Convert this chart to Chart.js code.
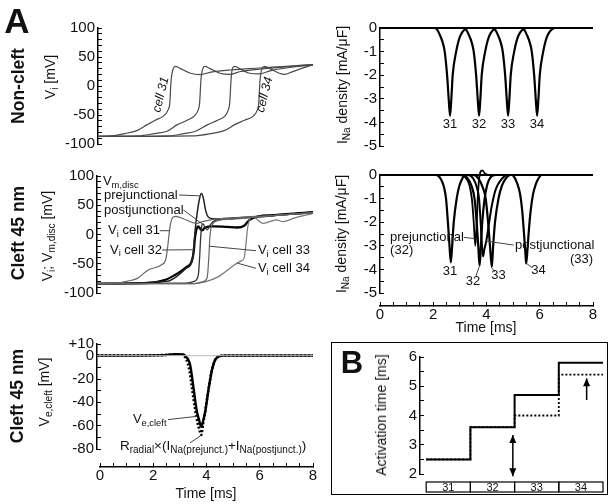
<!DOCTYPE html>
<html>
<head>
<meta charset="utf-8">
<script src="https://cdn.jsdelivr.net/npm/chart.js@4.4.1/dist/chart.umd.min.js"></script>
<style>
  html, body { margin: 0; padding: 0; background: #fff; }
  #fig { position: relative; width: 611px; height: 504px; overflow: hidden;
         font-family: "Liberation Sans", Arial, sans-serif; color: #111; }
  #fig canvas { position: absolute; left: 0; top: 0; }
  .lbl { position: absolute; white-space: nowrap; line-height: 1; transform: translate(-50%, -50%); }
  .rot { transform: translate(-50%, -50%) rotate(-90deg); }
  .sb { font-size: 72%; vertical-align: -0.3em; }
  .row { font-weight: bold; font-size: 17.5px; }
  .yt { font-size: 14px; }
  .box { position: absolute; left: 331px; top: 342px; width: 277px; height: 153px;
         box-sizing: border-box; border: 1.5px solid #000; }
</style>
</head>
<body>
<div id="fig">
  <div class="box"></div>
  <canvas id="cTL" width="611" height="504"></canvas>
  <canvas id="cTR" width="611" height="504"></canvas>
  <canvas id="cML" width="611" height="504"></canvas>
  <canvas id="cMR" width="611" height="504"></canvas>
  <canvas id="cMRt" width="611" height="504"></canvas>
  <canvas id="cBL" width="611" height="504"></canvas>
  <canvas id="cBLt" width="611" height="504"></canvas>
  <canvas id="cB" width="611" height="504"></canvas>

  <div class="lbl" style="left:17px;top:20px;font-size:35px;font-weight:bold">A</div>
  <div class="lbl" style="left:352px;top:362px;font-size:31px;font-weight:bold">B</div>

  <div class="lbl rot row" style="left:19px;top:86px">Non-cleft</div>
  <div class="lbl rot row" style="left:19px;top:233px">Cleft 45 nm</div>
  <div class="lbl rot row" style="left:18px;top:396px">Cleft 45 nm</div>

  <div class="lbl rot yt" style="left:52px;top:77px">V<span class="sb">i</span> [mV]</div>
  <div class="lbl rot yt" style="left:49px;top:236px">V<span class="sb">i</span>; V<span class="sb">m,disc</span> [mV]</div>
  <div class="lbl rot yt" style="left:46px;top:392px">V<span class="sb">e,cleft</span> [mV]</div>
  <div class="lbl rot yt" style="left:344px;top:85px">I<span class="sb">Na</span> density [mA/μF]</div>
  <div class="lbl rot yt" style="left:343px;top:234px">I<span class="sb">Na</span> density [mA/μF]</div>
  <div class="lbl rot yt" style="left:381px;top:415px">Activation time [ms]</div>

  <div class="lbl yt" style="left:486px;top:327px">Time [ms]</div>
  <div class="lbl yt" style="left:206px;top:493px">Time [ms]</div>
</div>

<script>
// ---- data: time in ms, voltage in mV, current in mA/uF ----

// tick labels
const timeTicks = [0, 2, 4, 6, 8];
const vTicks = [100, 50, 0, -50, -100];
const inaTicks = [0, -1, -2, -3, -4, -5];
const veTicks = [10, 0, -20, -40, -60, -80];
const actTicks = [2, 3, 4, 5, 6];

// non-cleft, intracellular potential
const ncVi31 = [[0,-87],[0.5,-86],[1.0,-82],[1.44,-77],[1.82,-67],[2.13,-59],[2.45,-51],[2.6,-42],[2.67,-30],[2.72,10],[2.8,30],[2.88,34],[3.07,30],[3.44,22],[3.8,19.5],[4.2,24],[5,28],[6,31],[7,34],[8,37]];
const ncVi32 = [[0,-87],[1.5,-86],[2.1,-82],[2.57,-78],[2.94,-67],[3.32,-59],[3.6,-51],[3.72,-42],[3.78,-30],[3.83,10],[3.9,30],[3.98,34],[4.17,30],[4.54,22],[4.9,20],[5.3,25],[6,29],[7,33],[8,37]];
const ncVi33 = [[0,-87],[2.6,-86],[3.2,-82],[3.63,-78],[4.07,-67],[4.45,-59],[4.74,-51],[4.84,-42],[4.9,-30],[4.95,10],[5.0,30],[5.08,34],[5.27,30],[5.64,22],[6.0,21],[6.4,26],[7,31],[8,36]];
const ncVi34 = [[0,-87],[3.5,-86],[4.2,-82],[4.7,-77],[5.07,-67],[5.45,-59],[5.8,-51],[5.92,-42],[5.98,-30],[6.03,10],[6.1,30],[6.2,34],[6.4,30],[6.75,22],[6.95,20],[7.2,24],[7.5,29],[8,37]];

// non-cleft, sodium current density
const ncINa31 = [[0,0],[2.05,0],[2.15,-0.08],[2.25,-0.3],[2.35,-0.6],[2.43,-1.0],[2.52,-2.0],[2.58,-3.0],[2.63,-3.72],[2.68,-3.0],[2.73,-2.0],[2.86,-1.0],[2.95,-0.55],[3.03,-0.3],[3.15,-0.1],[3.3,0],[8,0]];
const ncINa32 = [[0,0],[3.14,0],[3.24,-0.08],[3.34,-0.3],[3.44,-0.6],[3.52,-1.0],[3.61,-2.0],[3.67,-3.0],[3.72,-3.72],[3.77,-3.0],[3.82,-2.0],[3.95,-1.0],[4.04,-0.55],[4.12,-0.3],[4.24,-0.1],[4.39,0],[8,0]];
const ncINa33 = [[0,0],[4.23,0],[4.33,-0.08],[4.43,-0.3],[4.53,-0.6],[4.61,-1.0],[4.7,-2.0],[4.76,-3.0],[4.81,-3.72],[4.86,-3.0],[4.91,-2.0],[5.04,-1.0],[5.13,-0.55],[5.21,-0.3],[5.33,-0.1],[5.48,0],[8,0]];
const ncINa34 = [[0,0],[5.32,0],[5.42,-0.08],[5.52,-0.3],[5.62,-0.6],[5.7,-1.0],[5.79,-2.0],[5.85,-3.0],[5.9,-3.72],[5.95,-3.0],[6.0,-2.0],[6.13,-1.0],[6.22,-0.55],[6.3,-0.3],[6.42,-0.1],[6.57,0],[8,0]];

// cleft 45 nm, intracellular and disc membrane potentials
const cVi31 = [[0,-84],[0.6,-84],[1.1,-80],[1.5,-75],[1.88,-61],[2.38,-52],[2.55,-42],[2.62,-20],[2.68,5],[2.74,22],[2.82,30],[2.92,31],[3.2,27],[3.5,21],[3.7,19],[3.9,22],[4.3,26],[5,28],[6,31],[7,34],[8,37]];
const cVi32 = [[0,-84],[1.8,-83],[2.5,-78],[3.0,-66],[3.3,-56],[3.5,-47],[3.58,-30],[3.63,-5],[3.68,8],[3.75,14],[3.82,10],[3.9,7],[4.0,12],[4.3,14],[4.8,13],[5.2,12],[5.45,15],[5.65,25],[6.0,31],[6.5,33],[7,35],[8,38]];
const cVmPre = [[0,-84],[2.6,-80],[3.0,-70],[3.3,-58],[3.5,-48],[3.58,-25],[3.64,10],[3.72,40],[3.8,62],[3.87,70],[3.94,62],[4.02,42],[4.12,30],[4.3,27],[4.6,27],[5,28],[6,31],[7,34],[8,37]];
const cVmPost = [[0,-84],[3.3,-83],[3.6,-80],[3.75,-70],[3.8,-40],[3.84,-5],[3.88,15],[3.93,18],[4.0,12],[4.08,8],[4.18,15],[4.3,22],[4.6,26],[5,27],[6,30],[7,34],[8,37]];
const cVi33 = [[0,-84],[3.6,-84],[3.9,-81],[4.08,-74],[4.14,-40],[4.18,-5],[4.23,12],[4.32,20],[4.5,24],[5,26],[6,30],[7,34],[8,37]];
const cVi34 = [[0,-84],[3.6,-84],[4.0,-81],[4.5,-72],[5.0,-55],[5.3,-46],[5.45,-40],[5.52,-15],[5.58,12],[5.66,27],[5.75,31],[5.9,27],[6.14,19],[6.4,22],[6.64,25],[6.9,22],[7.3,28],[8,36]];

// cleft 45 nm, sodium current density
const cINa31 = [[0,0],[2.1,0],[2.2,-0.05],[2.3,-0.2],[2.4,-0.5],[2.48,-1.0],[2.55,-2.0],[2.61,-3.0],[2.66,-3.7],[2.71,-3.0],[2.77,-2.0],[2.88,-1.0],[2.97,-0.5],[3.07,-0.2],[3.2,0],[8,0]];
const cINaPre = [[0,0],[3.0,0],[3.2,-0.1],[3.35,-0.4],[3.45,-1.0],[3.52,-2.0],[3.58,-3.0],[3.63,-2.1],[3.67,-1.0],[3.72,-0.2],[3.78,0.15],[3.84,0.2],[3.95,0.05],[4.1,0],[8,0]];
const cINa32 = [[0,0],[3.1,0],[3.3,-0.15],[3.45,-0.5],[3.55,-1.0],[3.63,-2.0],[3.69,-3.0],[3.74,-3.85],[3.79,-3.0],[3.84,-2.0],[3.93,-1.0],[4.03,-0.4],[4.15,-0.1],[4.35,0],[8,0]];
const cINaPost = [[0,0],[3.3,0],[3.5,-0.15],[3.63,-0.5],[3.72,-1.0],[3.78,-2.0],[3.83,-3.0],[3.87,-3.45],[3.92,-3.15],[4.0,-2.75],[4.1,-2.0],[4.2,-1.3],[4.35,-0.6],[4.55,-0.2],[4.8,0],[8,0]];
const cINa33 = [[0,0],[3.5,0],[3.7,-0.15],[3.85,-0.5],[3.97,-1.0],[4.06,-2.0],[4.13,-3.0],[4.2,-3.9],[4.25,-3.0],[4.32,-2.0],[4.45,-1.0],[4.58,-0.45],[4.72,-0.15],[4.9,0],[8,0]];
const cINa34 = [[0,0],[4.95,0],[5.05,-0.1],[5.15,-0.35],[5.26,-0.8],[5.34,-1.5],[5.41,-2.5],[5.46,-3.3],[5.49,-3.75],[5.53,-3.3],[5.58,-2.5],[5.66,-1.5],[5.75,-0.8],[5.85,-0.4],[5.95,-0.15],[6.07,0],[8,0]];

// cleft 45 nm, cleft potential
const zeroRef = [[0,0],[8,0]];
const veCleft = [[0,0],[2.5,0.5],[2.9,1.2],[3.2,1],[3.3,-1],[3.38,-3.4],[3.45,-8],[3.5,-15],[3.6,-32],[3.7,-48],[3.78,-55],[3.86,-61],[3.93,-56],[4.0,-49],[4.13,-29],[4.26,-12],[4.38,-3.4],[4.5,-0.8],[4.7,0],[8,0]];
const radialINa = [[0,0],[2.5,0.5],[2.9,1.2],[3.15,0.8],[3.3,-3],[3.42,-12],[3.52,-28],[3.62,-44],[3.72,-57],[3.8,-64],[3.86,-68],[3.93,-58],[4.0,-49],[4.13,-29],[4.26,-12],[4.38,-3.4],[4.5,-0.8],[4.7,0],[8,0]];

// panel B: activation time per cell
const cellNames = ['31', '32', '33', '34'];
const actSolid = [2.5, 3.6, 4.7, 5.8];
const actDotted = [2.5, 3.6, 4.0, 5.4];

// ---- drawing ----
const W = 611, H = 504, AXW = 40;
const FONT = '"Liberation Sans", Arial, sans-serif';

function parseRich(s) {
  const parts = [];
  const re = /_\{([^}]*)\}/g;
  let last = 0, m;
  while ((m = re.exec(s))) {
    if (m.index > last) parts.push([s.slice(last, m.index), false]);
    parts.push([m[1], true]);
    last = re.lastIndex;
  }
  if (last < s.length) parts.push([s.slice(last), false]);
  return parts;
}

function drawRich(ctx, x, y, it) {
  const size = it.size || 13;
  const sub = size * (it.subr || 0.72);
  const style = it.italic ? 'italic ' : '';
  const fontOf = b => style + (b ? sub : size) + 'px ' + FONT;
  const parts = parseRich(it.s);
  let w = 0;
  parts.forEach(([t, b]) => { ctx.font = fontOf(b); w += ctx.measureText(t).width; });
  ctx.save();
  ctx.translate(x, y);
  if (it.rot) ctx.rotate(it.rot * Math.PI / 180);
  let cx = it.align === 'center' ? -w / 2 : it.align === 'right' ? -w : 0;
  ctx.fillStyle = '#111';
  ctx.textBaseline = 'middle';
  ctx.textAlign = 'left';
  parts.forEach(([t, b]) => {
    ctx.font = fontOf(b);
    ctx.fillText(t, cx, b ? size * 0.3 : 0);
    cx += ctx.measureText(t).width;
  });
  ctx.restore();
}

function arrowHead(ctx, x, y, dir) {
  ctx.beginPath();
  ctx.moveTo(x, y);
  ctx.lineTo(x - 3.5, y - dir * 8);
  ctx.lineTo(x + 3.5, y - dir * 8);
  ctx.closePath();
  ctx.fill();
}

// annotations, given in data units of the chart they belong to
function notes(items) {
  return {
    id: 'notes',
    afterDatasetsDraw(chart) {
      const ctx = chart.ctx;
      const X = v => chart.scales.x.getPixelForValue(v);
      const Y = v => chart.scales.y.getPixelForValue(v);
      ctx.save();
      items.forEach(it => {
        if (it.k === 'line') {
          ctx.strokeStyle = '#444';
          ctx.lineWidth = 1;
          ctx.beginPath();
          ctx.moveTo(X(it.x1), Y(it.y1));
          ctx.lineTo(X(it.x2), Y(it.y2));
          ctx.stroke();
        } else if (it.k === 'text') {
          drawRich(ctx, X(it.x), Y(it.y), it);
        } else if (it.k === 'arrow') {
          const x = X(it.x), y1 = Y(it.y1), y2 = Y(it.y2);
          ctx.strokeStyle = '#000';
          ctx.fillStyle = '#000';
          ctx.lineWidth = 1.5;
          ctx.beginPath();
          ctx.moveTo(x, y1);
          ctx.lineTo(x, y2);
          ctx.stroke();
          const dir = y2 > y1 ? 1 : -1;
          arrowHead(ctx, x, y2, dir);
          if (it.both) arrowHead(ctx, x, y1, -dir);
        } else if (it.k === 'cells') {
          const top = chart.chartArea.bottom + 8, h = 10;
          ctx.strokeStyle = '#000';
          ctx.lineWidth = 1.2;
          ctx.fillStyle = '#111';
          ctx.font = '11px ' + FONT;
          ctx.textAlign = 'center';
          ctx.textBaseline = 'middle';
          it.labels.forEach((name, i) => {
            const a = X(i), b = X(i + 1);
            ctx.strokeRect(a, top, b - a, h);
            ctx.fillText(name, (a + b) / 2, top + h / 2 + 0.5);
          });
        }
      });
      ctx.restore();
    }
  };
}

function series(arr, color, width, dash) {
  return {
    data: arr.map(([x, y]) => ({ x, y })),
    borderColor: color,
    borderWidth: width,
    borderDash: dash || [],
    pointRadius: 0,
    cubicInterpolationMode: 'monotone',
    clip: false,
    fill: false
  };
}

function yAxis(min, max, step, labels, fmt) {
  return {
    min, max,
    afterFit: s => { s.width = AXW; },
    border: { color: '#000', width: 1.5 },
    grid: { drawOnChartArea: false, tickLength: -4, color: '#000', lineWidth: 1 },
    ticks: {
      stepSize: step, autoSkip: false, maxTicksLimit: 200, padding: 7, color: '#111',
      font: { family: FONT, size: 15 },
      callback: v => labels.includes(v) ? (fmt ? fmt(v) : String(v)) : ''
    }
  };
}

// area = [left, top, right, bottom] of the plotting region, in pixels
function panel(id, area, xr, yScale, sets, items) {
  return new Chart(document.getElementById(id), {
    type: 'line',
    data: { datasets: sets },
    options: {
      responsive: false, animation: false, events: [],
      layout: { autoPadding: false, padding: { left: area[0] - AXW, top: area[1], right: W - area[2], bottom: H - area[3] } },
      plugins: { legend: { display: false }, tooltip: { enabled: false } },
      scales: { x: { type: 'linear', display: false, min: xr[0], max: xr[1] }, y: yScale }
    },
    plugins: [notes(items)]
  });
}

function timeAxis(id, left, right, lineY) {
  return new Chart(document.getElementById(id), {
    type: 'line',
    data: { datasets: [] },
    options: {
      responsive: false, animation: false, events: [],
      layout: { autoPadding: false, padding: { left: left, top: lineY - 6, right: W - right, bottom: H - lineY - 24 } },
      plugins: { legend: { display: false }, tooltip: { enabled: false } },
      scales: {
        x: {
          type: 'linear', min: 0, max: 8, position: 'bottom',
          afterFit: s => { s.height = 24; },
          border: { color: '#000', width: 1.5 },
          grid: { drawOnChartArea: false, tickLength: -4, color: '#000', lineWidth: 1 },
          ticks: {
            stepSize: 0.5, autoSkip: false, maxRotation: 0, padding: 4, color: '#111',
            font: { family: FONT, size: 15 },
            callback: v => timeTicks.includes(v) ? String(v) : ''
          }
        },
        y: { display: false }
      }
    }
  });
}

const GRAY = '#4a4a4a';

// non-cleft Vi
panel('cTL', [98, 28, 313, 144], [0, 8], yAxis(-100, 100, 10, vTicks), [
  series(ncVi31, GRAY, 1.2), series(ncVi32, GRAY, 1.2), series(ncVi33, GRAY, 1.2), series(ncVi34, GRAY, 1.2)
], [
  { k: 'text', x: 2.34, y: -15, s: 'cell 31', align: 'center', rot: -76, italic: true, size: 12.5 },
  { k: 'text', x: 6.2, y: -15, s: 'cell 34', align: 'center', rot: -76, italic: true, size: 12.5 }
]);

// non-cleft INa
panel('cTR', [380, 28, 593, 146], [0, 8], yAxis(-5, 0, 0.5, inaTicks), [
  series(ncINa31, '#000', 2.2), series(ncINa32, '#000', 2.2), series(ncINa33, '#000', 2.2), series(ncINa34, '#000', 2.2)
], [
  { k: 'text', x: 2.63, y: -4.1, s: '31', align: 'center' },
  { k: 'text', x: 3.72, y: -4.1, s: '32', align: 'center' },
  { k: 'text', x: 4.81, y: -4.1, s: '33', align: 'center' },
  { k: 'text', x: 5.9, y: -4.1, s: '34', align: 'center' }
]);

// cleft Vi and Vm,disc
panel('cML', [97, 176, 313, 293], [0, 8], yAxis(-100, 100, 10, vTicks), [
  series(cVi31, '#666', 1.2), series(cVi33, '#666', 1.2), series(cVi34, '#777', 1.2),
  series(cVmPost, '#333', 1.3), series(cVmPre, '#222', 1.5), series(cVi32, '#000', 2.3)
], [
  { k: 'text', x: 0.22, y: 90, s: 'V_{m,disc}' },
  { k: 'text', x: 0.26, y: 67.5, s: 'prejunctional' },
  { k: 'text', x: 0.26, y: 42, s: 'postjunctional' },
  { k: 'text', x: 0.41, y: 6.5, s: 'V_{i} cell 31' },
  { k: 'text', x: 0.48, y: -26.5, s: 'V_{i} cell 32' },
  { k: 'text', x: 5.96, y: -27.7, s: 'V_{i} cell 33' },
  { k: 'text', x: 5.96, y: -57.8, s: 'V_{i} cell 34' },
  { k: 'line', x1: 3.04, y1: 67.5, x2: 3.84, y2: 66 },
  { k: 'line', x1: 3.2, y1: 42, x2: 3.9, y2: 18 },
  { k: 'line', x1: 2.33, y1: 6.5, x2: 2.68, y2: 6.5 },
  { k: 'line', x1: 2.41, y1: -26.5, x2: 3.59, y2: -26 },
  { k: 'line', x1: 5.89, y1: -27.7, x2: 4.16, y2: -20 },
  { k: 'line', x1: 5.89, y1: -57.8, x2: 5.2, y2: -49 }
]);

// cleft INa
panel('cMR', [380, 175, 593, 293], [0, 8], yAxis(-5, 0, 0.5, inaTicks), [
  series(cINa31, '#000', 2.2), series(cINaPre, '#000', 1.8), series(cINa32, '#000', 2.2),
  series(cINaPost, '#000', 2), series(cINa33, '#000', 2.2), series(cINa34, '#000', 2.2)
], [
  { k: 'text', x: 0.38, y: -2.64, s: 'prejunctional' },
  { k: 'text', x: 0.38, y: -3.2, s: '(32)' },
  { k: 'text', x: 5.07, y: -2.97, s: 'postjunctional' },
  { k: 'text', x: 8.0, y: -3.57, s: '(33)', align: 'right' },
  { k: 'line', x1: 3.15, y1: -2.64, x2: 3.57, y2: -2.7 },
  { k: 'line', x1: 5.02, y1: -2.97, x2: 3.98, y2: -2.8 },
  { k: 'text', x: 2.63, y: -4.1, s: '31', align: 'center' },
  { k: 'text', x: 3.49, y: -4.53, s: '32', align: 'center' },
  { k: 'text', x: 4.45, y: -4.24, s: '33', align: 'center' },
  { k: 'text', x: 5.95, y: -4.05, s: '34', align: 'center' },
  { k: 'line', x1: 3.72, y1: -3.9, x2: 3.6, y2: -4.3 },
  { k: 'line', x1: 4.21, y1: -3.95, x2: 4.3, y2: -4.1 },
  { k: 'line', x1: 5.51, y1: -3.75, x2: 5.72, y2: -3.93 }
]);
timeAxis('cMRt', 380, 593, 306);

// cleft potential
panel('cBL', [97, 344, 313, 449], [0, 8], yAxis(-80, 10, 10, veTicks, v => v > 0 ? '+' + v : String(v)), [
  series(zeroRef, '#bbb', 1), series(radialINa, '#000', 2.6, [2, 2]), series(veCleft, '#000', 2.4)
], [
  { k: 'text', x: 1.33, y: -54.8, s: 'V_{e,cleft}' },
  { k: 'line', x1: 2.63, y1: -54.8, x2: 3.7, y2: -52 },
  { k: 'text', x: 0.85, y: -77.7, s: 'R_{radial}×(I_{Na(prejunct.)}+I_{Na(postjunct.)})', size: 13.5, subr: 0.74 },
  { k: 'line', x1: 3.44, y1: -74.8, x2: 3.84, y2: -68.6 }
]);
timeAxis('cBLt', 100, 313, 467);

// panel B: step lines built from per-cell activation times
function stepPoints(vals) {
  const p = [];
  vals.forEach((v, i) => { p.push([i, v]); p.push([i + 1, v]); });
  return p;
}
const stepSolid = series(stepPoints(actSolid), '#000', 2);
const stepDotted = series(stepPoints(actDotted), '#000', 1.8, [2, 2]);
stepSolid.cubicInterpolationMode = 'default';
stepDotted.cubicInterpolationMode = 'default';
panel('cB', [420, 357, 603, 474], [-0.14, 4], yAxis(2, 6, 0.5, actTicks), [stepDotted, stepSolid], [
  { k: 'arrow', x: 1.96, y1: 3.33, y2: 1.92, both: true },
  { k: 'arrow', x: 3.63, y1: 4.53, y2: 5.27 },
  { k: 'cells', labels: cellNames }
]);
</script>
</body>
</html>
